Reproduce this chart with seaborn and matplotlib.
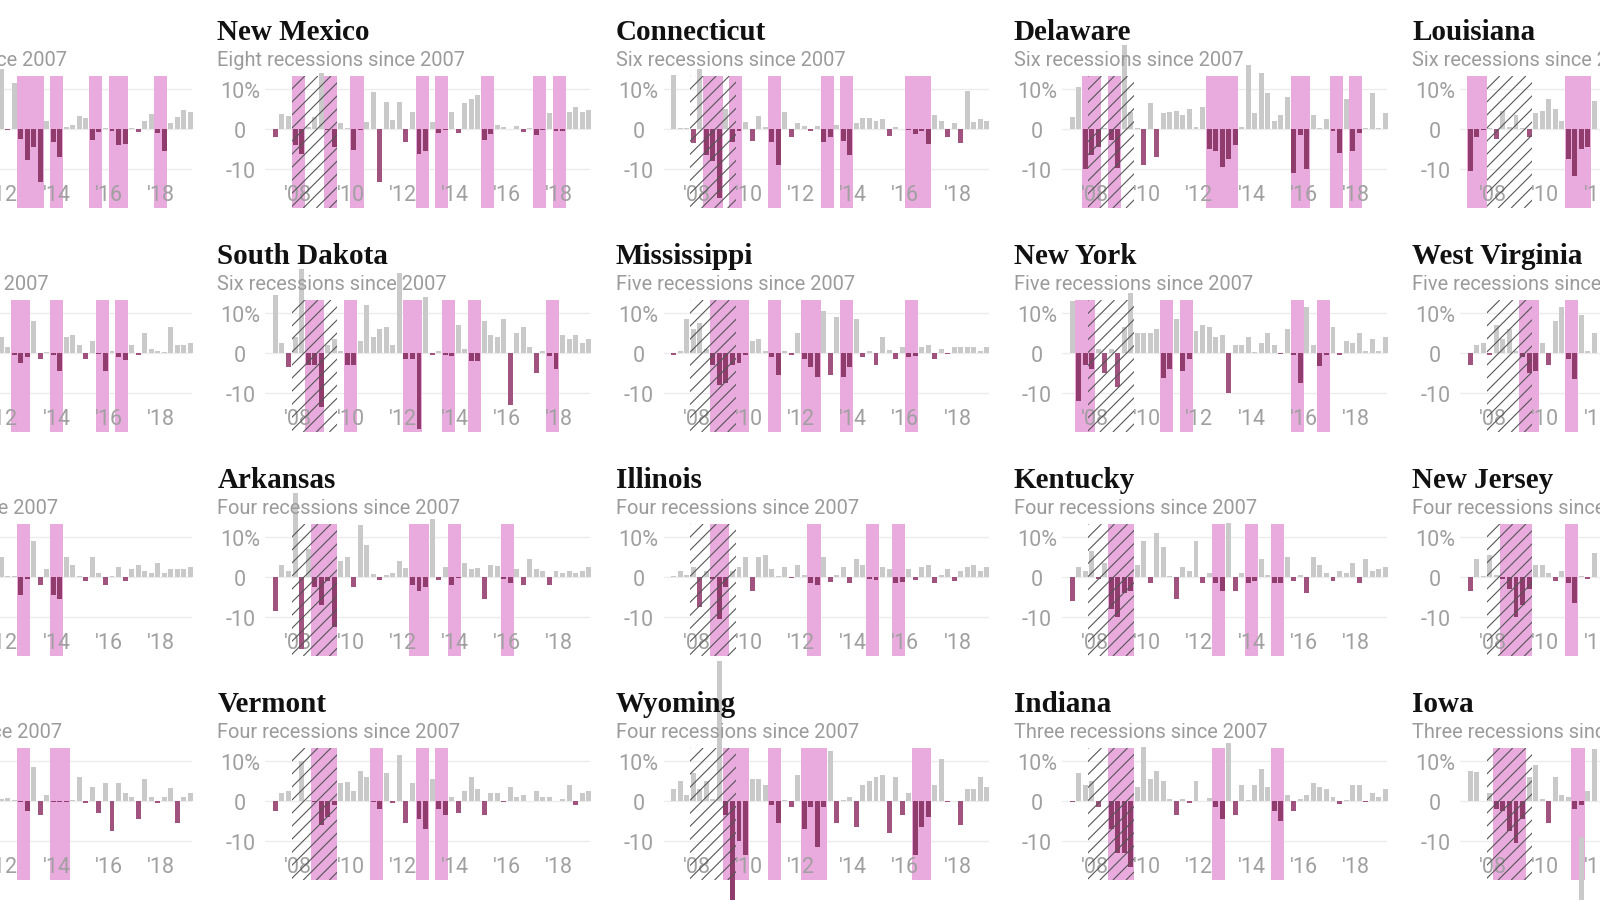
import numpy as np
import pandas as pd
import matplotlib
matplotlib.use("Agg")
import matplotlib.pyplot as plt
import matplotlib.colors as mcolors
import seaborn as sns
from matplotlib.patches import Rectangle
from matplotlib.collections import LineCollection
from matplotlib.transforms import blended_transform_factory

# quarterly GDP growth (annualised %), 2007 Q1 .. 2019 Q1; nan = cut off by the frame
NA = np.nan
quarters = 2007.125 + np.arange(49) * 0.25
year_ticks = [2008, 2010, 2012, 2014, 2016, 2018]
year_labels = ["'08", "'10", "'12", "'14", "'16", "'18"]
y_ticks = [10, 0, -10]
y_labels = ["10%", "0", "-10"]
us_recession = (2007.75, 2009.5)

# left column, only the right part is visible
hidden_a = [NA] * 19 + [15, -0.3, 11.5, -2.5, -7.7, -4.4, -13.2, 2, -3.3, -7,
                        0.5, 1, 3.2, 2.7, -2.7, -0.7, 0.3, -0.6, -4.1, -3.7,
                        0.3, -0.8, 2, 3.7, -1, -5.5, 1.5, 3, 4.8, 4.2]
hidden_a_bands = [(22, 25), (27, 28), (33, 34), (36, 38), (43, 44)]
hidden_b = [NA] * 19 + [4, 1.5, -0.5, -2.5, -1, 8, -1.5, 0.3, -0.5, -4.5,
                        4, 4.5, 2, -1.5, 3, -0.3, -4.5, 0.5, -1, -1.7,
                        2, -0.5, 5, 1, 0.5, 0.3, 6.5, 2, 2, 2.5]
hidden_b_bands = [(21, 23), (27, 28), (34, 35), (37, 38)]
hidden_c = [NA] * 19 + [5, 0.3, 0.3, -4.5, -0.5, 9, -2, 2, -4.5, -5.5,
                        5, 3, 0.3, -1, 5, 1, -2, 0.3, 2.5, -1,
                        2, 3, 1.5, 1, 3.5, 1, 2, 2, 2, 2.5]
hidden_c_bands = [(22, 23), (27, 28)]
hidden_d = [NA] * 19 + [0.5, 0.8, 0.3, -0.3, -2.5, 8.5, -3.5, 1.5, -0.2, -0.2,
                        -0.3, 0.3, 6, -0.5, 3.5, -3, 4.5, -7.5, 4.5, 2,
                        1, -4.5, 5.5, 1, -0.5, 1, 3.2, -5.5, 1, 2]
hidden_d_bands = [(22, 23), (27, 29)]
# panel below Iowa: only the top of one very tall bar reaches into the frame
hidden_e = [NA] * 17 + [47] + [NA] * 31
hidden_e_bands = []

new_mexico = [-2, 3.7, 3.2, -4, -6.3, 0.5, 3.1, 14, -0.3, -4.4,
              1.4, 0.2, -5.2, -0.3, 1.8, 9.3, -13.2, 6.8, 2.3, 6.8,
              -3.2, 4.2, -6.3, -5.5, 1.8, -1.1, -0.3, 4.3, -1, 6.5,
              7.6, 8.6, -2.8, -1.3, 1, 0.5, 0.1, 0.7, -0.7, 0.3,
              -1.5, -0.2, 4, -0.5, -0.5, 4.3, 5.5, 4.3, 4.8]
new_mexico_bands = [(3, 4), (8, 9), (12, 13), (22, 23), (25, 26), (32, 33), (40, 41), (43, 44)]

connecticut = [13.5, 0.3, 0.2, -3.4, 15, -6.5, -8.1, -17.3, 5, -3.3,
               -0.5, 1.7, -2.9, 3.3, 0.5, -3.3, -9, 4.2, -2, 1.5,
               0.8, -0.4, 0.8, -3.3, -2, 1, -3, -6.5, 1.5, 2.7,
               2.7, 2, 2.5, -1.8, 0.5, 0.1, -0.3, -1.3, -0.5, -3.8,
               3.5, 2, -2, 1.5, -3.5, 9.5, 1.8, 2.5, 2]
connecticut_bands = [(5, 7), (9, 10), (15, 16), (23, 24), (26, 27), (36, 39)]

delaware = [3, 10.5, -10, -6.5, -4.5, 0.3, -2.8, -9.8, 21, 4.3,
            0.3, -9, 6.4, -7, 4, 4.3, 4.5, 3.5, 5, 0.5,
            5.5, -5, -5.5, -9.5, -7.5, -4, 0.5, 16, 4, 14,
            9, 2, 3.5, 8, -11, -1.5, -10, 3.5, 0.3, 2.5,
            -0.5, -6, 7.5, -5.5, -1, 0.3, 9, 0.2, 4]
delaware_bands = [(2, 4), (6, 7), (21, 25), (34, 36), (40, 41), (43, 44)]

louisiana = [-10.5, -2, -0.3, 0.3, -2.5, 4.5, 0.5, 3.5, 0.3, -2,
             4, 4.5, 7.5, 5, 2, -7.5, -11.8, -5, -4.5, 7] + [NA] * 29
louisiana_bands = [(0, 2), (15, 18)]

south_dakota = [14.5, 2.5, -3.5, 4, 21, -3, -3, -13.5, 2, 3.5,
                0.5, -3, -3, 3, 12, 4, 6, 6.5, 2, 20,
                -1.5, -1.5, -19, 14, -0.5, 0.5, -0.5, -0.8, 7, 1,
                -2, -2, 8, 4.5, 4, 8.5, -13, 5, 6.5, 1.5,
                -5, 0.5, -0.8, -4, 4.5, 3.5, 4.5, 2.5, 3.5]
south_dakota_bands = [(5, 7), (11, 12), (20, 22), (26, 27), (30, 31), (42, 43)]

mississippi = [-0.5, 0.5, 8.5, 6, 7.5, 1, -3, -8, -7.5, -3,
               -2.5, -0.5, 3, 3.5, 0.5, -1, -5.5, 0.5, -0.5, 5,
               -1.5, -3.5, -6, 10.5, -5.5, 9, -6, -3.5, 8.5, -1,
               0.5, -3, 4, 0.8, -1.5, 1.5, -1, -0.8, 1.5, 2,
               -1.5, 1, -0.3, 1.5, 1.5, 1.5, 1.5, 0.5, 1.5]
mississippi_bands = [(6, 11), (15, 16), (20, 22), (26, 27), (36, 37)]

new_york = [13, -12, -3, -4, 1, -5, 1, -8.5, 6.5, 15,
            5, 5, 5, 6, -6.3, -4, 8.5, -4.5, -1.5, 5.5,
            7, 6.5, 4, 4.5, -10, 2, 2, 4, 0.3, 2.5,
            5, 2, -0.3, 6, -0.5, -7.5, 11.5, 2, -3.2, -0.5,
            6.5, -0.5, 3, 2.5, 5, 0.5, 3.5, 0.5, 4]
new_york_bands = [(1, 3), (14, 15), (17, 18), (34, 35), (38, 39)]

west_virginia = [-3, 2, 2.5, -0.5, 7, 3.5, 6, 0.5, -1, -5,
                 -4.5, 2.5, -3, 8, 11.5, -1.5, -6.5, 9.5, 0.5, 5] + [NA] * 29
west_virginia_bands = [(8, 10), (15, 16)]

arkansas = [-8.5, 3, 1.5, 21, -18, 7, -2.5, -7, -1, -12.5,
            4, 5, -2.5, 13, 8, 0.8, -0.8, 0.5, 1, 4,
            2.3, -2, -3.5, -2.5, 14.5, -0.7, 2.5, -2, -0.3, 3.5,
            2, 2.3, -5.5, 3, 2.8, -0.5, -1.5, 2, -2, 4.5,
            2, 1.5, -2, 1.5, 1, 1.5, 1, 1.5, 2.5]
arkansas_bands = [(6, 9), (21, 23), (27, 28), (35, 36)]

illinois = [0.3, 1.5, 0.5, 2.5, -7.5, 1.5, -0.5, -10.5, -2.5, 1.5,
            2.5, 5, -3.5, 5, 5.5, 2, 0.3, 2.5, -0.3, 3,
            0.5, -1.5, -2, 5, -1.2, 0.5, 2.5, -1.5, 4.5, 3,
            -0.5, -0.8, 2.5, 2, -1.5, -1.2, 2, -0.8, 2.5, 3,
            -1.5, 0.5, 2, -1, 1.5, 2.5, 3, 1.5, 2.5]
illinois_bands = [(6, 8), (21, 22), (30, 31), (34, 35)]

kentucky = [-6, 2.5, 1.5, 6.5, -0.5, 3.5, -8, -10, -4, -3.5,
            3, 9, -1.5, 11, 7.5, 0.3, -5.5, 2.5, 1.5, 9,
            -1.5, 1, -1.5, -3.5, 13.5, -3.5, 1, -1.5, -1, 4.5,
            0.5, -1.5, -1.5, 5, -1, 0.5, -4, 5, 3, 1,
            -1, 1.5, 1, 3.5, -1.5, 4.5, 1.5, 2, 2.5]
kentucky_bands = [(6, 9), (22, 23), (27, 28), (31, 32)]

new_jersey = [-3.5, 4.5, 0.3, 5.5, 0.5, -0.5, -3, -10, -7, -3,
              3, 3, 1, -1, 1.5, -1.5, -6.5, 0.3, -0.5, 6] + [NA] * 29
new_jersey_bands = [(5, 9), (15, 16)]

vermont = [-2.5, 2, 2.5, 0, 10, 0.3, -0.3, -6, -4, -1,
           4.5, 4.7, 2.5, 7.5, 6, -0.3, -2, 7, -0.5, 11.5,
           -5.5, 4.5, -4.5, -7, 5.5, -2, -3.5, 1, -3, 2.5,
           6, 3, -3.5, 2, 2, -0.3, 3.5, 1, 1.5, 0.1,
           2.5, 1, 1, 0.1, 0.5, 4, -1, 2, 2.5]
vermont_bands = [(6, 9), (15, 16), (22, 23), (25, 26)]

wyoming = [3, 5, 1.5, 7, 3, 5, 0.5, 35, -3.5, -30,
           -10, -13.5, 5.5, 5.5, 4, -1, -5.5, 0.3, -1.5, 6.5,
           -7, -1.5, -11.5, -1.5, 12.5, -5.5, 0.3, 1, -6.5, 4,
           5, 6, 6.5, -8, 6, -3.5, 2, -13.5, -6.5, -4,
           4, 10.5, -0.3, 0.1, -6, 3, 3, 6, 3.5]
wyoming_bands = [(8, 11), (15, 16), (20, 23), (37, 39)]

indiana = [-0.2, 7, 4, 5, -1.5, 0.1, -7, -13, -13, -16.5,
           3.5, 13.5, 5.5, 7.5, 5, 0.5, -3.5, 0.5, -0.5, 5,
           0.1, 0.8, -1.5, -4.5, 14.5, -3.5, 4, 0.3, 4, 8,
           3.5, -2.5, -5, 1.5, -2.5, 0.5, 1.5, 4.5, 3.5, 3,
           1, -0.8, 0.3, 4, 4, -0.3, 2, 1, 3]
indiana_bands = [(6, 9), (22, 23), (31, 32)]

iowa = [7.5, 7.3, 0.1, 2, -2, -2.5, -7.5, -10.5, -4.5, 6,
        9, 0.5, -5.5, 6, 1.5, 1, -2, -1, 2.5, 13] + [NA] * 29
iowa_bands = [(4, 8), (16, 17)]

# (row, col, title, subtitle, values, bands)
panels = [
    [0, 0, "", "Eight recessions since 2007", hidden_a, hidden_a_bands],
    [0, 1, "New Mexico", "Eight recessions since 2007", new_mexico, new_mexico_bands],
    [0, 2, "Connecticut", "Six recessions since 2007", connecticut, connecticut_bands],
    [0, 3, "Delaware", "Six recessions since 2007", delaware, delaware_bands],
    [0, 4, "Louisiana", "Six recessions since 2007", louisiana, louisiana_bands],
    [1, 0, "", "Six recessions since 2007", hidden_b, hidden_b_bands],
    [1, 1, "South Dakota", "Six recessions since 2007", south_dakota, south_dakota_bands],
    [1, 2, "Mississippi", "Five recessions since 2007", mississippi, mississippi_bands],
    [1, 3, "New York", "Five recessions since 2007", new_york, new_york_bands],
    [1, 4, "West Virginia", "Five recessions since 2007", west_virginia, west_virginia_bands],
    [2, 0, "", "Five recessions since 2007", hidden_c, hidden_c_bands],
    [2, 1, "Arkansas", "Four recessions since 2007", arkansas, arkansas_bands],
    [2, 2, "Illinois", "Four recessions since 2007", illinois, illinois_bands],
    [2, 3, "Kentucky", "Four recessions since 2007", kentucky, kentucky_bands],
    [2, 4, "New Jersey", "Four recessions since 2007", new_jersey, new_jersey_bands],
    [3, 0, "", "Four recessions since 2007", hidden_d, hidden_d_bands],
    [3, 1, "Vermont", "Four recessions since 2007", vermont, vermont_bands],
    [3, 2, "Wyoming", "Four recessions since 2007", wyoming, wyoming_bands],
    [3, 3, "Indiana", "Three recessions since 2007", indiana, indiana_bands],
    [3, 4, "Iowa", "Three recessions since 2007", iowa, iowa_bands],
    [4, 4, "", "", hidden_e, hidden_e_bands],
]

sns.set_theme(style="white")
plt.rcParams["font.family"] = ["Roboto", "DejaVu Sans"]

band_color = "#e9aade"
gain_color = "#c9c9c9"
loss_color = "#ad4680"
grid_color = "#ececec"
hatch_color = "#555555"
tick_color = "#a0a0a0"


def multiply(c1, c2):
    a = np.array(mcolors.to_rgb(c1))
    b = np.array(mcolors.to_rgb(c2))
    return tuple(a * b)


palette = {
    "gain": gain_color,
    "loss": loss_color,
    "gain_band": multiply(gain_color, band_color),
    "loss_band": multiply(loss_color, band_color),
}

W, H = 1600, 900
XLIM = (2006.736, 2019.19)
YLIM = (-19.75, 13.25)
AX_W, AX_H = 325, 132
px_per_year = AX_W / (XLIM[1] - XLIM[0])
BAR_W = 0.76

fig = plt.figure(figsize=(16, 9), dpi=100)
fig.patch.set_facecolor("white")

for row, col, title, subtitle, values, bands in panels:
    x0 = -181 + 398.3 * col
    y0 = 31 + 224 * row
    ax_left = x0 + 48
    ax = fig.add_axes([ax_left / W, 1 - (y0 + 45 + AX_H) / H, AX_W / W, AX_H / H])

    vals = np.array(values, dtype=float)
    in_band = np.zeros(len(vals), dtype=bool)
    for a, b in bands:
        in_band[a:b + 1] = True
    kind = np.where(vals < 0, "loss", "gain")
    kind = np.where(in_band, np.char.add(kind, "_band"), kind)
    df = pd.DataFrame({"t": quarters, "v": vals, "kind": kind}).dropna()

    visible = y0 < H
    if visible:
        for y in y_ticks:
            ax.axhline(y, color=grid_color, lw=1, zorder=0)
        for a, b in bands:
            ax.axvspan(quarters[a] - 0.125, quarters[b] + 0.125, color=band_color, lw=0, zorder=1)

    # a lone bar has no spacing to scale from, so give it a quarter's width directly
    width = BAR_W if len(df) > 1 else BAR_W * 0.25
    sns.barplot(data=df, x="t", y="v", hue="kind", palette=palette, native_scale=True,
                dodge=False, width=width, errorbar=None, legend=False, ax=ax,
                linewidth=0, zorder=2)
    for cont in ax.containers:
        for bar in cont:
            bar.set_clip_on(False)

    ax.set_xlim(*XLIM)
    ax.set_ylim(*YLIM)
    ax.set_axis_off()
    if not visible:
        continue

    # national recession, hatched
    h0, h1 = us_recession
    slope = px_per_year / (AX_H / (YLIM[1] - YLIM[0]))
    span = (YLIM[1] - YLIM[0]) / slope
    rect = Rectangle((h0, YLIM[0]), h1 - h0, YLIM[1] - YLIM[0], facecolor="none",
                     edgecolor="none", transform=ax.transData)
    ax.add_patch(rect)
    starts = np.arange(h0 - span, h1 + 0.5, 0.5)
    segs = [[(s, YLIM[0]), (s + span, YLIM[1])] for s in starts]
    lc = LineCollection(segs, colors=hatch_color, linewidths=0.8, zorder=4)
    ax.add_collection(lc, autolim=False)
    lc.set_clip_path(rect)

    # tick labels (skip the ones that fall wholly outside the frame)
    tr = blended_transform_factory(ax.transAxes, ax.transData)
    if x0 + 23 > -20:
        for y, lab in zip(y_ticks, y_labels):
            ax.text(-25 / AX_W, y - 2.2, lab, transform=tr, ha="center", va="baseline",
                    fontsize=15.5, color=tick_color, clip_on=False)
    for t, lab in zip(year_ticks, year_labels):
        if ax_left + (t - XLIM[0]) * px_per_year < -15:
            continue
        ax.text(t, -18, lab, ha="center", va="baseline", fontsize=15.5,
                color=tick_color, zorder=1.5)

    if title:
        fig.text(x0 / W, 1 - (y0 + 9) / H, title, fontsize=21, fontweight="bold",
                 family="Liberation Serif", color="#111111", va="baseline")
    fig.text(x0 / W, 1 - (y0 + 35.5) / H, subtitle, fontsize=14.4, color="#9b9b9b",
             va="baseline")

fig.savefig("out.png", dpi=100)
